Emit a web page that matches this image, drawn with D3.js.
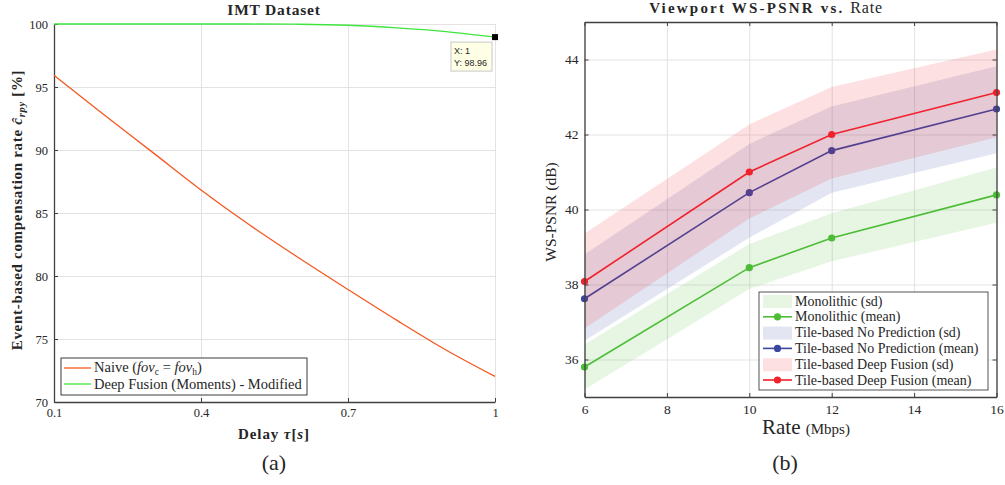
<!DOCTYPE html>
<html>
<head>
<meta charset="utf-8">
<script src="https://cdn.jsdelivr.net/npm/d3@7"></script>
<style>
  body { margin: 0; background: #fff; }
  svg text { font-family: "Liberation Serif", "Times New Roman", serif; fill: #262626; }
  .grid line { stroke: #e3e3e3; stroke-width: 1; }
  .grid .domain { display: none; }
  .axis .domain { stroke: #404040; stroke-width: 1.3; }
  .axis line { stroke: #404040; }
</style>
</head>
<body>
<svg id="chart" width="1005" height="485"></svg>
<script>
// (a) IMT Dataset
var DELAY = [0.1, 0.2, 0.3, 0.4, 0.5, 0.6, 0.7, 0.8, 0.9, 1.0];
var NAIVE = [95.93, 92.85, 89.85, 86.83, 84.03, 81.43, 78.93, 76.48, 74.13, 72.03];
var DEEP_FUSION = [100, 100, 100, 100, 100, 99.98, 99.9, 99.7, 99.4, 98.96];
var DELAY_TICKS = [0.1, 0.4, 0.7, 1];
var RATE_TICKS_A = [70, 75, 80, 85, 90, 95, 100];

// (b) Viewport WS-PSNR vs. Rate
var RATE = [6, 10, 12, 16];
var MONO_MEAN = [35.8, 38.45, 39.24, 40.39];
var MONO_LO = [35.2, 37.88, 38.62, 39.65];
var MONO_HI = [36.4, 39.08, 39.9, 41.12];
var NOPRED_MEAN = [37.62, 40.45, 41.57, 42.68];
var NOPRED_LO = [36.5, 39.25, 40.45, 41.5];
var NOPRED_HI = [38.8, 41.75, 42.75, 43.82];
var DEEP_MEAN = [38.08, 41.0, 42.0, 43.12];
var DEEP_LO = [36.83, 39.76, 40.83, 41.93];
var DEEP_HI = [39.36, 42.27, 43.27, 44.27];
var RATE_X_TICKS = [6, 8, 10, 12, 14, 16];
var PSNR_TICKS = [36, 38, 40, 42, 44];

var svg = d3.select("#chart");

/* ---------- left chart ---------- */
var xL = d3.scaleLinear().domain([0.1, 1]).range([54, 495]);
var yL = d3.scaleLinear().domain([70, 100]).range([402, 24]);
var left = svg.append("g");

left.append("g").attr("class", "grid")
  .attr("transform", "translate(0,402)")
  .call(d3.axisBottom(xL).tickValues(DELAY_TICKS).tickSize(-378).tickFormat(""));
left.append("g").attr("class", "grid")
  .attr("transform", "translate(54,0)")
  .call(d3.axisLeft(yL).tickValues(RATE_TICKS_A).tickSize(-441).tickFormat(""));

left.append("g").attr("class", "axis")
  .attr("transform", "translate(0,402)")
  .call(d3.axisBottom(xL).tickValues(DELAY_TICKS).tickSize(-4).tickSizeOuter(0).tickPadding(6).tickFormat(function (d) { return String(d); }))
  .selectAll("text").style("font-size", "12.5px");
left.append("g").attr("class", "axis")
  .attr("transform", "translate(54,0)")
  .call(d3.axisLeft(yL).tickValues(RATE_TICKS_A).tickSize(-4).tickSizeOuter(0).tickPadding(6))
  .selectAll("text").style("font-size", "12.5px");

var lineA = d3.line()
  .x(function (d, i) { return xL(DELAY[i]); })
  .y(function (d) { return yL(d); })
  .curve(d3.curveMonotoneX);

left.append("path").datum(NAIVE)
  .attr("d", lineA).attr("fill", "none").attr("stroke", "#f4581f").attr("stroke-width", 1.3);
left.append("path").datum(DEEP_FUSION)
  .attr("d", lineA).attr("fill", "none").attr("stroke", "#3fe53f").attr("stroke-width", 1.3);

// datatip on last point
var lastX = DELAY[DELAY.length - 1], lastY = DEEP_FUSION[DEEP_FUSION.length - 1];
left.append("rect")
  .attr("x", xL(lastX) - 3).attr("y", yL(lastY) - 3)
  .attr("width", 6).attr("height", 6).attr("fill", "#000");
var tip = left.append("g").attr("transform", "translate(" + (xL(lastX) - 44) + "," + (yL(lastY) + 5) + ")");
tip.append("rect").attr("width", 41).attr("height", 29)
  .attr("fill", "#ffffe6").attr("stroke", "#c8c8c8");
tip.append("text").attr("x", 3).attr("y", 12).text("X: 1")
  .style("font-family", "Liberation Sans, Arial, sans-serif").style("font-size", "9px");
tip.append("text").attr("x", 3).attr("y", 24).text("Y: " + lastY)
  .style("font-family", "Liberation Sans, Arial, sans-serif").style("font-size", "9px");

// legend
var legA = left.append("g").attr("transform", "translate(61,358)");
legA.append("rect").attr("width", 246).attr("height", 37)
  .attr("fill", "#fff").attr("stroke", "#262626").attr("stroke-width", 0.9);
legA.append("line").attr("x1", 3).attr("x2", 30).attr("y1", 10).attr("y2", 10)
  .attr("stroke", "#f4581f").attr("stroke-width", 1.3);
legA.append("line").attr("x1", 3).attr("x2", 30).attr("y1", 26).attr("y2", 26)
  .attr("stroke", "#3fe53f").attr("stroke-width", 1.3);
var naiveText = legA.append("text").attr("x", 33).attr("y", 14).style("font-size", "14.5px");
naiveText.append("tspan").text("Naive (");
naiveText.append("tspan").style("font-style", "italic").text("fov");
naiveText.append("tspan").attr("dy", 3).style("font-size", "9.5px").text("c");
naiveText.append("tspan").attr("dy", -3).text(" = ");
naiveText.append("tspan").style("font-style", "italic").text("fov");
naiveText.append("tspan").attr("dy", 3).style("font-size", "9.5px").text("h");
naiveText.append("tspan").attr("dy", -3).text(")");
legA.append("text").attr("x", 33).attr("y", 31).style("font-size", "14.5px")
  .text("Deep Fusion (Moments) - Modified");

// titles
left.append("text").attr("x", 274).attr("y", 15).attr("text-anchor", "middle")
  .style("font-size", "15.5px").style("font-weight", "bold").style("letter-spacing", "0.8px")
  .text("IMT Dataset");
var xlab = left.append("text").attr("x", 274).attr("y", 439).attr("text-anchor", "middle")
  .style("font-size", "15px").style("font-weight", "bold").style("letter-spacing", "0.9px");
xlab.append("tspan").text("Delay ");
xlab.append("tspan").style("font-style", "italic").text("τ");
xlab.append("tspan").text("[");
xlab.append("tspan").style("font-style", "italic").text("s");
xlab.append("tspan").text("]");
var ylab = left.append("text").attr("transform", "translate(22,210) rotate(-90)")
  .attr("text-anchor", "middle").style("font-size", "15px").style("font-weight", "bold")
  .style("letter-spacing", "0.7px");
ylab.append("tspan").text("Event-based compensation rate ");
ylab.append("tspan").style("font-style", "italic").text("ĉ");
ylab.append("tspan").attr("dy", 3).style("font-style", "italic").style("font-size", "10.5px").text("rpy");
ylab.append("tspan").attr("dy", -3).text(" [%]");
left.append("text").attr("x", 274).attr("y", 470).attr("text-anchor", "middle")
  .style("font-size", "22px").text("(a)");

/* ---------- right chart ---------- */
var xR = d3.scaleLinear().domain([6, 16]).range([584.5, 996.5]);
var yR = d3.scaleLinear().domain([35, 45]).range([397, 22]);
var right = svg.append("g");
var W = 412, H = 375;

right.append("g").attr("class", "grid")
  .attr("transform", "translate(0,397)")
  .call(d3.axisBottom(xR).tickValues(RATE_X_TICKS).tickSize(-H).tickFormat(""));
right.append("g").attr("class", "grid")
  .attr("transform", "translate(584.5,0)")
  .call(d3.axisLeft(yR).tickValues(PSNR_TICKS).tickSize(-W).tickFormat(""));

var SERIES = [
  { name: "Monolithic", color: "#4dbd37", mean: MONO_MEAN, lo: MONO_LO, hi: MONO_HI },
  { name: "Tile-based No Prediction", color: "#3a46a0", mean: NOPRED_MEAN, lo: NOPRED_LO, hi: NOPRED_HI },
  { name: "Tile-based Deep Fusion", color: "#f0222c", mean: DEEP_MEAN, lo: DEEP_LO, hi: DEEP_HI }
];

var band = d3.area()
  .x(function (d) { return xR(d.x); })
  .y0(function (d) { return yR(d.lo); })
  .y1(function (d) { return yR(d.hi); });
var meanLine = d3.line()
  .x(function (d) { return xR(d.x); })
  .y(function (d) { return yR(d.y); });

SERIES.forEach(function (s) {
  var pts = RATE.map(function (r, i) { return { x: r, y: s.mean[i], lo: s.lo[i], hi: s.hi[i] }; });
  right.append("path").datum(pts).attr("d", band)
    .attr("fill", s.color).attr("fill-opacity", 0.14);
  right.append("path").datum(pts).attr("d", meanLine)
    .attr("fill", "none").attr("stroke", s.color).attr("stroke-width", 1.6);
  right.selectAll(null).data(pts).enter().append("circle")
    .attr("cx", function (d) { return xR(d.x); })
    .attr("cy", function (d) { return yR(d.y); })
    .attr("r", 3.6).attr("fill", s.color);
});

// box + inward ticks on every side
right.append("g").attr("class", "axis")
  .attr("transform", "translate(0,397)")
  .call(d3.axisBottom(xR).tickValues(RATE_X_TICKS).tickSize(-4).tickSizeOuter(0).tickPadding(7))
  .selectAll("text").style("font-size", "13.5px");
right.append("g").attr("class", "axis")
  .attr("transform", "translate(0,22)")
  .call(d3.axisTop(xR).tickValues(RATE_X_TICKS).tickSize(-4).tickSizeOuter(0).tickFormat(""));
right.append("g").attr("class", "axis")
  .attr("transform", "translate(584.5,0)")
  .call(d3.axisLeft(yR).tickValues(PSNR_TICKS).tickSize(-4).tickSizeOuter(0).tickPadding(6))
  .selectAll("text").style("font-size", "13.5px");
right.append("g").attr("class", "axis")
  .attr("transform", "translate(996.5,0)")
  .call(d3.axisRight(yR).tickValues(PSNR_TICKS).tickSize(-4).tickSizeOuter(0).tickFormat(""));

// legend
var legB = right.append("g").attr("transform", "translate(759,292)");
legB.append("rect").attr("width", 229).attr("height", 98)
  .attr("fill", "#fff").attr("stroke", "#404040").attr("stroke-width", 0.9);
SERIES.forEach(function (s, i) {
  var y0 = 9 + i * 31.6;
  legB.append("rect").attr("x", 4).attr("y", y0 - 6).attr("width", 29).attr("height", 13)
    .attr("fill", s.color).attr("fill-opacity", 0.14);
  legB.append("text").attr("x", 36).attr("y", y0 + 4.5).style("font-size", "14px")
    .text(s.name + " (sd)");
  var y1 = y0 + 15.8;
  legB.append("line").attr("x1", 4).attr("x2", 33).attr("y1", y1).attr("y2", y1)
    .attr("stroke", s.color).attr("stroke-width", 1.6);
  legB.append("circle").attr("cx", 18.5).attr("cy", y1).attr("r", 3.6).attr("fill", s.color);
  legB.append("text").attr("x", 36).attr("y", y1 + 4.5).style("font-size", "14px")
    .text(s.name + " (mean)");
});

// titles
var titleB = right.append("text").attr("x", 766).attr("y", 13).attr("text-anchor", "middle");
titleB.append("tspan").style("font-size", "15px").style("font-weight", "bold")
  .style("letter-spacing", "2.2px").text("Viewport WS-PSNR vs. ");
titleB.append("tspan").style("font-size", "16px").style("letter-spacing", "0.8px").text("Rate");
var xlabB = right.append("text").attr("x", 806).attr("y", 434).attr("text-anchor", "middle");
xlabB.append("tspan").style("font-size", "21px").text("Rate ");
xlabB.append("tspan").style("font-size", "15px").text("(Mbps)");
right.append("text").attr("transform", "translate(556,212) rotate(-90)")
  .attr("text-anchor", "middle").style("font-size", "15.5px").text("WS-PSNR (dB)");
right.append("text").attr("x", 785).attr("y", 470).attr("text-anchor", "middle")
  .style("font-size", "22px").text("(b)");
</script>
</body>
</html>
